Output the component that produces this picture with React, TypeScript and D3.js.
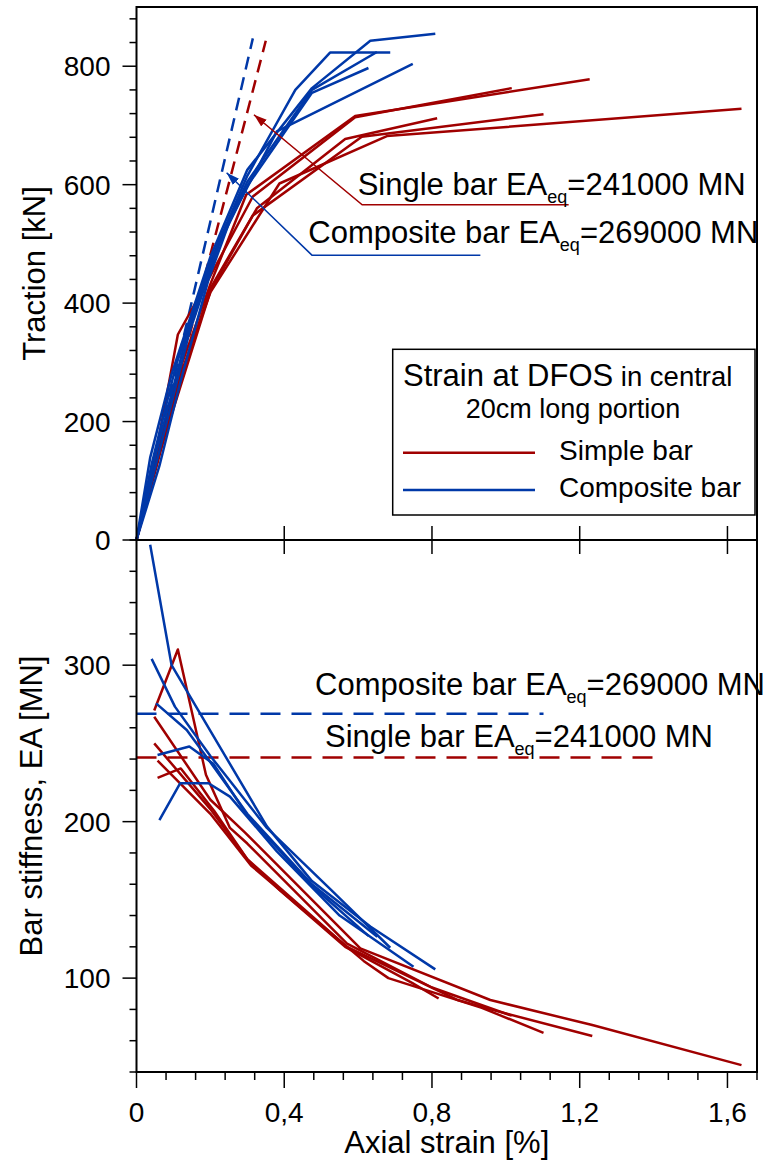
import React from 'react'
import * as d3 from 'd3'

type Pt = [number, number]

const RED = '#a00000'
const BLUE = '#0038a8'
const FONT = "'Liberation Sans', Arial, sans-serif"

// upper panel: axial strain [%] -> traction [kN]
const tracSimple1: Pt[] = [[0, 0], [0.048, 130], [0.112, 347], [0.188, 432], [0.315, 580], [0.592, 714], [1.016, 763]]
const tracSimple2: Pt[] = [[0, 0], [0.048, 128], [0.11, 275], [0.2, 432], [0.297, 583], [0.592, 716], [1.227, 778]]
const tracSimple3: Pt[] = [[0, 0], [0.048, 120], [0.115, 262], [0.2, 425], [0.326, 560], [0.565, 677], [0.814, 712]]
const tracSimple4: Pt[] = [[0, 0], [0.057, 136], [0.2, 420], [0.315, 548], [0.61, 681], [1.102, 719]]
const tracSimple5: Pt[] = [[0, 0], [0.057, 130], [0.12, 281], [0.2, 418], [0.387, 602], [0.678, 682], [1.638, 728]]

const tracComposite1: Pt[] = [[0, 0], [0.037, 139], [0.095, 280], [0.2, 478], [0.3, 625], [0.475, 763], [0.633, 843], [0.809, 855]]
const tracComposite2: Pt[] = [[0, 0], [0.041, 128], [0.107, 295], [0.2, 470], [0.3, 615], [0.43, 760], [0.524, 823], [0.687, 823]]
const tracComposite3: Pt[] = [[0, 0], [0.053, 146], [0.134, 340], [0.224, 505], [0.3, 605], [0.475, 760], [0.651, 824]]
const tracComposite4: Pt[] = [[0, 0], [0.057, 138], [0.143, 350], [0.224, 500], [0.3, 598], [0.475, 755], [0.628, 797]]
const tracComposite5: Pt[] = [[0, 0], [0.062, 125], [0.118, 265], [0.195, 440], [0.253, 540], [0.38, 690], [0.748, 804]]

// lower panel: axial strain [%] -> bar stiffness EA [MN]
const stiffSimple1: Pt[] = [[0.048, 271], [0.112, 310], [0.188, 230], [0.253, 196], [0.3, 186], [0.57, 122], [0.8, 94], [1.016, 76]]
const stiffSimple2: Pt[] = [[0.048, 267], [0.2, 214], [0.294, 193], [0.606, 119], [0.958, 86], [1.234, 70], [1.638, 44.4]]
const stiffSimple3: Pt[] = [[0.048, 250], [0.2, 208], [0.303, 175], [0.389, 156], [0.565, 120], [0.746, 97], [0.818, 87]]
const stiffSimple4: Pt[] = [[0.057, 239], [0.2, 205], [0.31, 172], [0.615, 111], [0.682, 100], [0.935, 81], [1.102, 65]]
const stiffSimple5: Pt[] = [[0.057, 228], [0.12, 234], [0.21, 207], [0.3, 176], [0.57, 120], [0.87, 86], [0.958, 80], [1.234, 63]]

const stiffComposite1: Pt[] = [[0.037, 377], [0.095, 300], [0.2, 258], [0.353, 197], [0.475, 162], [0.633, 133], [0.809, 105.6]]
const stiffComposite2: Pt[] = [[0.041, 304], [0.104, 273.5], [0.2, 242], [0.353, 196], [0.524, 157], [0.687, 119.4]]
const stiffComposite3: Pt[] = [[0.053, 275.6], [0.136, 258.6], [0.2, 238], [0.3, 205], [0.475, 160], [0.652, 126.4]]
const stiffComposite4: Pt[] = [[0.057, 242.6], [0.143, 248], [0.208, 237], [0.3, 204], [0.475, 159], [0.628, 127]]
const stiffComposite5: Pt[] = [[0.062, 201], [0.118, 224.5], [0.195, 224.5], [0.253, 216], [0.38, 181], [0.55, 140], [0.75, 107.3]]

// equivalent stiffness reference lines
const singleRefTrac: Pt[] = [[0, 0], [0.35, 843]]
const compositeRefTrac: Pt[] = [[0, 0], [0.315, 847]]
const singleRefStiff: Pt[] = [[0, 241], [1.405, 241]]
const compositeRefStiff: Pt[] = [[0, 269], [1.102, 269]]

const tractionTicks = [0, 200, 400, 600, 800]
const stiffnessTicks = [100, 200, 300]
const strainTicks = [0, 0.4, 0.8, 1.2, 1.6]
const strainTickLabels = ['0', '0,4', '0,8', '1,2', '1,6']

const tracSimple = [tracSimple1, tracSimple2, tracSimple3, tracSimple4, tracSimple5]
const tracComposite = [tracComposite1, tracComposite2, tracComposite3, tracComposite4, tracComposite5]
const stiffSimple = [stiffSimple1, stiffSimple2, stiffSimple3, stiffSimple4, stiffSimple5]
const stiffComposite = [stiffComposite1, stiffComposite2, stiffComposite3, stiffComposite4, stiffComposite5]

const W = 764, H = 1163
const left = 136.5, right = 757, top = 7, mid = 540, bottom = 1072

const EqLabel = ({ x, y, name, value }: { x: number; y: number; name: string; value: string }) => (
  <text x={x} y={y} fontSize={31}>
    {name} EA<tspan fontSize={18} dy={8}>eq</tspan>
    <tspan dy={-8}>={value} MN</tspan>
  </text>
)

export default function App() {
  const x = d3.scaleLinear().domain([0, 1.68]).range([left, right])
  const yTop = d3.scaleLinear().domain([0, 900]).range([mid, top])
  const yBot = d3.scaleLinear().domain([40, 380]).range([bottom, mid])

  const lineTop = d3.line<Pt>().x(d => x(d[0])).y(d => yTop(d[1]))
  const lineBot = d3.line<Pt>().x(d => x(d[0])).y(d => yBot(d[1]))

  const tracMinor = d3.range(0, 881, 40)
  const stiffMinor = d3.range(40, 381, 20)
  const strainMinor = d3.range(0, 1.681, 0.08)

  // annotation anchors (data coords of upper panel)
  const redTip: Pt = [0.318, 718]
  const redKnee: Pt = [0.611, 566]
  const redEnd = 1.17
  const blueTip: Pt = [0.244, 620]
  const blueKnee: Pt = [0.475, 481]
  const blueEnd = 0.931

  return (
    <svg width={W} height={H} style={{ position: 'absolute', left: 0, top: 0, background: '#fff' }} fontFamily={FONT}>
      <defs>
        <marker id="arrRed" viewBox="0 0 12 8" refX={12} refY={4} markerWidth={13} markerHeight={9} markerUnits="userSpaceOnUse" orient="auto">
          <path d="M0,0L12,4L0,8Z" fill={RED} />
        </marker>
        <marker id="arrBlue" viewBox="0 0 12 8" refX={12} refY={4} markerWidth={13} markerHeight={9} markerUnits="userSpaceOnUse" orient="auto">
          <path d="M0,0L12,4L0,8Z" fill={BLUE} />
        </marker>
      </defs>

      {/* reference dashed lines */}
      <path d={lineTop(compositeRefTrac) || ''} stroke={BLUE} strokeWidth={2.5} strokeDasharray="13 8" fill="none" />
      <path d={lineTop(singleRefTrac) || ''} stroke={RED} strokeWidth={2.5} strokeDasharray="13 8" fill="none" />
      <path d={lineBot(compositeRefStiff) || ''} stroke={BLUE} strokeWidth={2.5} strokeDasharray="20 11" fill="none" />
      <path d={lineBot(singleRefStiff) || ''} stroke={RED} strokeWidth={2.5} strokeDasharray="20 11" fill="none" />

      {/* curves */}
      {tracSimple.map((c, i) => (
        <path key={'ts' + i} d={lineTop(c) || ''} stroke={RED} strokeWidth={2.5} fill="none" strokeLinejoin="round" />
      ))}
      {stiffSimple.map((c, i) => (
        <path key={'ss' + i} d={lineBot(c) || ''} stroke={RED} strokeWidth={2.5} fill="none" strokeLinejoin="round" />
      ))}
      {tracComposite.map((c, i) => (
        <path key={'tc' + i} d={lineTop(c) || ''} stroke={BLUE} strokeWidth={2.5} fill="none" strokeLinejoin="round" />
      ))}
      {stiffComposite.map((c, i) => (
        <path key={'sc' + i} d={lineBot(c) || ''} stroke={BLUE} strokeWidth={2.5} fill="none" strokeLinejoin="round" />
      ))}

      {/* frames */}
      <rect x={left} y={top} width={right - left} height={mid - top} fill="none" stroke="#000" strokeWidth={2} />
      <rect x={left} y={mid} width={right - left} height={bottom - mid} fill="none" stroke="#000" strokeWidth={2} />

      {/* y ticks upper */}
      {tracMinor.map(v => (
        <line key={'tm' + v} x1={left - (v % 200 === 0 ? 14 : 7)} x2={left} y1={yTop(v)} y2={yTop(v)} stroke="#000" strokeWidth={1.5} />
      ))}
      {tractionTicks.map(v => (
        <text key={'tl' + v} x={left - 26} y={yTop(v) + 10} fontSize={28} textAnchor="end">{v}</text>
      ))}

      {/* y ticks lower */}
      {stiffMinor.map(v => (
        <line key={'sm' + v} x1={left - (v % 100 === 0 ? 14 : 7)} x2={left} y1={yBot(v)} y2={yBot(v)} stroke="#000" strokeWidth={1.5} />
      ))}
      {stiffnessTicks.map(v => (
        <text key={'sl' + v} x={left - 26} y={yBot(v) + 10} fontSize={28} textAnchor="end">{v}</text>
      ))}

      {/* x ticks on middle line */}
      {strainTicks.slice(1).map(v => (
        <line key={'xm' + v} x1={x(v)} x2={x(v)} y1={mid - 14} y2={mid + 14} stroke="#000" strokeWidth={1.5} />
      ))}

      {/* x ticks bottom */}
      {strainMinor.map((v, i) => (
        <line key={'xb' + i} x1={x(v)} x2={x(v)} y1={bottom} y2={bottom + (i % 5 === 0 ? 16 : 8)} stroke="#000" strokeWidth={1.5} />
      ))}
      {strainTicks.map((v, i) => (
        <text key={'xl' + v} x={x(v)} y={1122} fontSize={28} textAnchor="middle">{strainTickLabels[i]}</text>
      ))}

      {/* axis titles */}
      <text x={(left + right) / 2} y={1153} fontSize={31} textAnchor="middle">Axial strain [%]</text>
      <text transform={`translate(44.5,${(top + mid) / 2}) rotate(-90)`} fontSize={31} textAnchor="middle">Traction [kN]</text>
      <text transform={`translate(41.5,${(mid + bottom) / 2}) rotate(-90)`} fontSize={31} textAnchor="middle">Bar stiffness, EA [MN]</text>

      {/* legend */}
      <rect x={392.7} y={349.3} width={362.3} height={165.7} fill="#fff" stroke="#000" strokeWidth={1.5} />
      <text x={403} y={386} fontSize={31}>
        Strain at DFOS<tspan fontSize={27.5}> in central</tspan>
      </text>
      <text x={573} y={418} fontSize={27} textAnchor="middle">20cm long portion</text>
      <line x1={403} x2={535} y1={452.7} y2={452.7} stroke={RED} strokeWidth={2.5} />
      <text x={559} y={460} fontSize={28}>Simple bar</text>
      <line x1={403} x2={535} y1={490} y2={490} stroke={BLUE} strokeWidth={2.5} />
      <text x={559} y={497} fontSize={28}>Composite bar</text>

      {/* annotations upper panel */}
      <polyline
        points={`${x(redEnd)},${yTop(redKnee[1])} ${x(redKnee[0])},${yTop(redKnee[1])} ${x(redTip[0])},${yTop(redTip[1])}`}
        fill="none" stroke={RED} strokeWidth={1.5} markerEnd="url(#arrRed)" />
      <polyline
        points={`${x(blueEnd)},${yTop(blueKnee[1])} ${x(blueKnee[0])},${yTop(blueKnee[1])} ${x(blueTip[0])},${yTop(blueTip[1])}`}
        fill="none" stroke={BLUE} strokeWidth={1.5} markerEnd="url(#arrBlue)" />
      <EqLabel x={357.7} y={195} name="Single bar" value="241000" />
      <EqLabel x={308.3} y={243.3} name="Composite bar" value="269000" />

      {/* annotations lower panel */}
      <EqLabel x={315} y={695} name="Composite bar" value="269000" />
      <EqLabel x={325} y={746.7} name="Single bar" value="241000" />
    </svg>
  )
}
